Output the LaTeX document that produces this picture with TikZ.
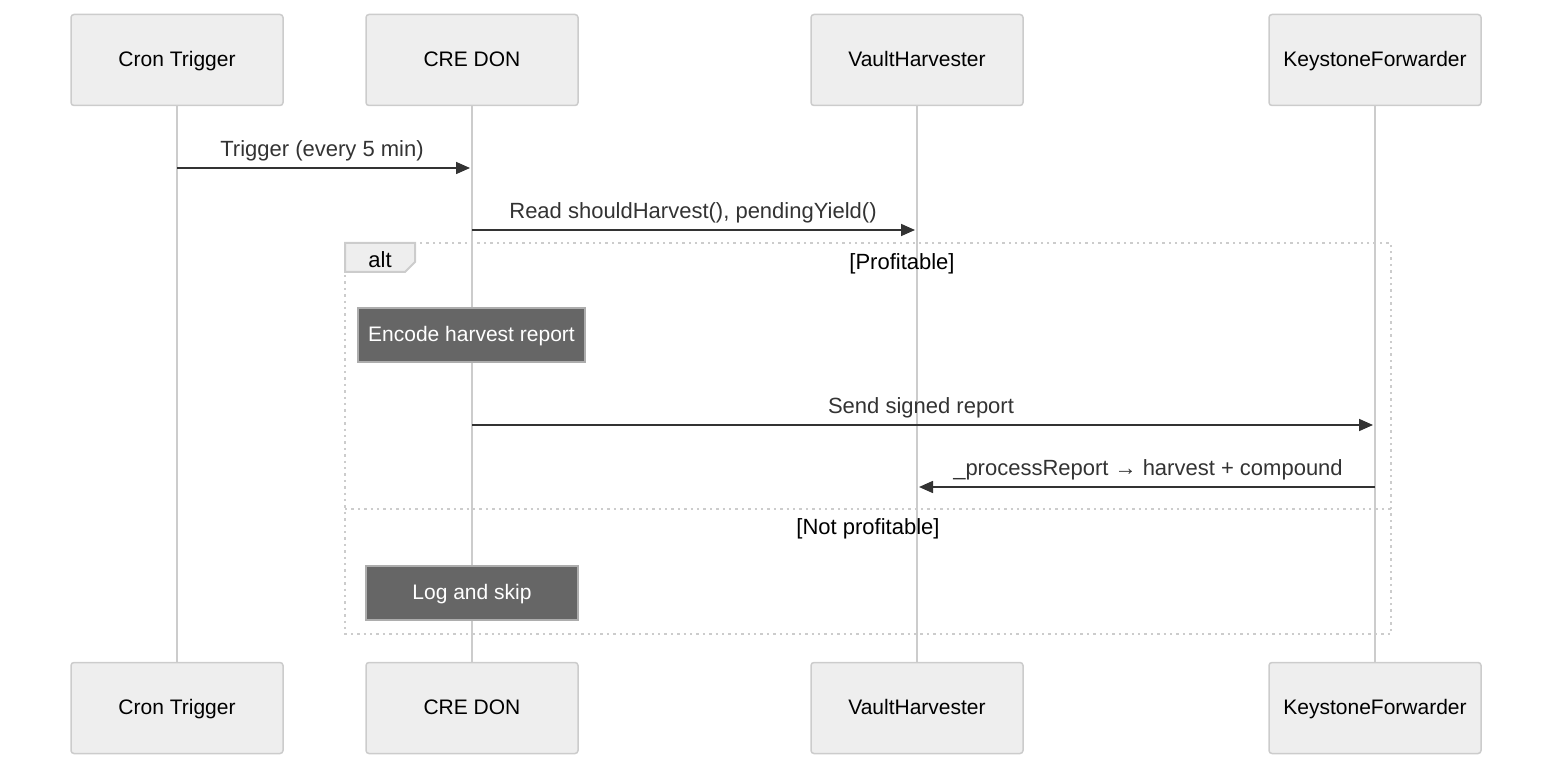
\documentclass[tikz,border=0pt]{standalone}
\usepackage{fontspec}
\setmainfont{Liberation Sans}
\usetikzlibrary{arrows.meta}
\definecolor{boxfill}{HTML}{EEEEEE}
\definecolor{boxline}{HTML}{CCCCCC}
\definecolor{notefill}{HTML}{666666}
\definecolor{msgline}{HTML}{333333}
\tikzset{every picture/.style={line width=0.75pt}}
\tikzset{
  actor/.style={draw=boxline,fill=boxfill,rounded corners=1.5pt,minimum width=106pt,minimum height=45.5pt,font=\fontsize{10.5}{12}\selectfont,text=black,text height=1.6ex,text depth=0.45ex},
  note/.style={draw=boxline!60!gray,fill=notefill,minimum height=27pt,font=\fontsize{10.5}{12}\selectfont,text=white,inner sep=1pt,text height=1.6ex,text depth=0.45ex},
  life/.style={draw=boxline,line width=1.2pt},
  msg/.style={draw=msgline,line width=0.8pt,-{Triangle[length=7pt,width=6pt]}},
  lbl/.style={font=\fontsize{11}{12}\selectfont,text=msgline,inner sep=0pt,text height=1.6ex,text depth=0.45ex},
  frame/.style={draw=boxline,dotted,line width=1.2pt}
}
\begin{document}
\begin{tikzpicture}[x=0.5pt,y=0.5pt,yscale=-1]
\useasboundingbox (0,0) rectangle (1568,780);

% participants
\node[actor] (cronT) at (177,60) {Cron Trigger};
\node[actor] (creT) at (472,60) {CRE DON};
\node[actor] (vaultT) at (917,60) {VaultHarvester};
\node[actor] (keyT) at (1375,60) {KeystoneForwarder};
\node[actor] (cronB) at (177,708) {Cron Trigger};
\node[actor] (creB) at (472,708) {CRE DON};
\node[actor] (vaultB) at (917,708) {VaultHarvester};
\node[actor] (keyB) at (1375,708) {KeystoneForwarder};

% lifelines
\draw[life] (cronT) -- (cronB);
\draw[life] (creT) -- (creB);
\draw[life] (vaultT) -- (vaultB);
\draw[life] (keyT) -- (keyB);

% alt frame
\draw[frame] (345,243) rectangle (1391,634);
\draw[frame] (345,509) -- (1391,509);
\draw[draw=boxline,fill=boxfill,line width=1pt] (345,243) -- (415,243) -- (415,262) -- (405,272) -- (345,272) -- cycle;
\node[lbl,text=black] (altT) at (380,261) {alt};
\node[lbl,text=black] (condA) at (902,263) {[Profitable]};
\node[lbl,text=black] (condB) at (868,528) {[Not profitable]};

% notes
\node[note,minimum width=113.5pt] (encode) at (471.5,335) {Encode harvest report};
\node[note,minimum width=106pt] (skip) at (472,593) {Log and skip};

% messages
\coordinate (m1s) at (177,168); \coordinate (m1e) at (470,168);
\draw[msg] (m1s) -- (m1e);
\node[lbl] (m1) at (322,150) {Trigger (every 5 min)};
\coordinate (m2s) at (472,230); \coordinate (m2e) at (915,230);
\draw[msg] (m2s) -- (m2e);
\node[lbl] (m2) at (693,212) {Read shouldHarvest(), pendingYield()};
\coordinate (m3s) at (472,425); \coordinate (m3e) at (1373,425);
\draw[msg] (m3s) -- (m3e);
\node[lbl] (m3) at (921,407) {Send signed report};
\coordinate (m4s) at (1375,487); \coordinate (m4e) at (919,487);
\draw[msg] (m4s) -- (m4e);
\node[lbl] (m4) at (1148,469) {\_processReport → harvest + compound};
\end{tikzpicture}
\end{document}
